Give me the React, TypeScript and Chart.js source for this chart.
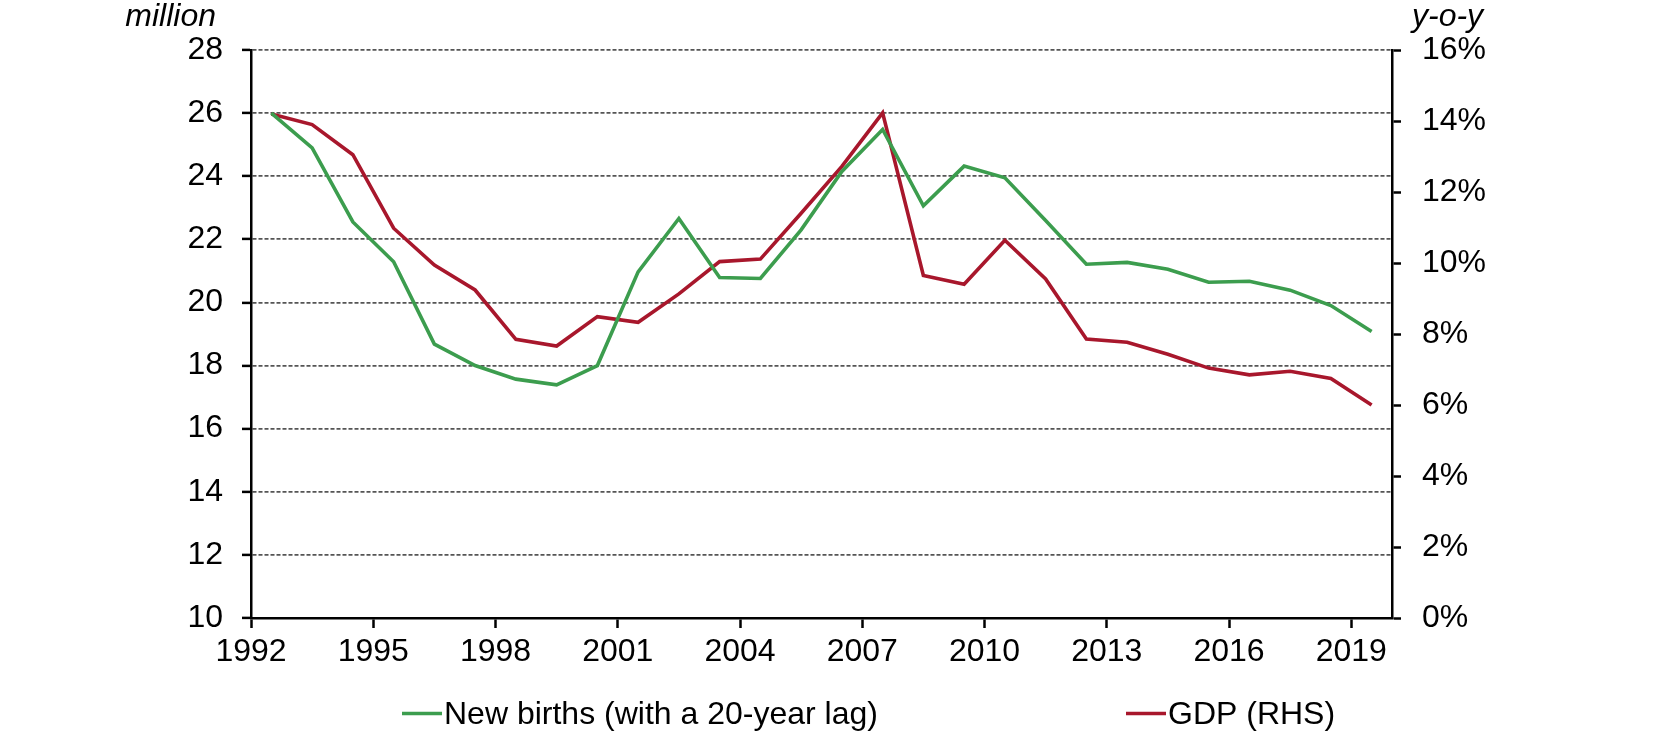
import React, { useEffect, useRef } from "react";
import { Chart, registerables } from "chart.js";

Chart.register(...registerables);

const years = [
  1992, 1993, 1994, 1995, 1996, 1997, 1998, 1999, 2000, 2001, 2002, 2003, 2004, 2005,
  2006, 2007, 2008, 2009, 2010, 2011, 2012, 2013, 2014, 2015, 2016, 2017, 2018, 2019,
];
const births = [
  26.0, 24.9, 22.55, 21.29, 18.68, 18.0, 17.57, 17.39, 18.0, 20.97, 22.66, 20.79, 20.76, 22.3,
  24.15, 25.48, 23.06, 24.32, 23.95, 22.6, 21.21, 21.27, 21.05, 20.64, 20.67, 20.39, 19.9, 19.08,
];
const gdp = [
  14.2, 13.9, 13.05, 10.98, 9.94, 9.24, 7.85, 7.66, 8.49, 8.33, 9.13, 10.04, 10.11, 11.4,
  12.72, 14.23, 9.65, 9.4, 10.64, 9.55, 7.86, 7.77, 7.43, 7.04, 6.85, 6.95, 6.75, 6.0,
];
const xTickYears = [1992, 1995, 1998, 2001, 2004, 2007, 2010, 2013, 2016, 2019];
const seriesLabels = ["New births (with a 20-year lag)", "GDP (RHS)"];
const seriesColors = ["#3c9d4e", "#a8172c"];
const leftUnit = "million";
const rightUnit = "y-o-y";

const W = 1659;
const H = 736;
const FONT = '"Liberation Sans", Arial, sans-serif';
const FS = 32;

const overlayPlugin = {
  id: "overlay",
  afterDraw(chart: any) {
    const { ctx, chartArea } = chart;
    ctx.save();
    ctx.fillStyle = "#000";
    ctx.font = `italic ${FS}px ${FONT}`;
    ctx.textBaseline = "alphabetic";
    ctx.textAlign = "right";
    ctx.fillText(leftUnit, chartArea.left - 35, 26);
    ctx.textAlign = "left";
    ctx.fillText(rightUnit, chartArea.right + 20, 26);

    // legend
    const starts = [402, 1126];
    ctx.font = `${FS}px ${FONT}`;
    chart.data.datasets.forEach((ds: any, i: number) => {
      const x0 = starts[i];
      ctx.strokeStyle = ds.borderColor;
      ctx.lineWidth = 3.4;
      ctx.beginPath();
      ctx.moveTo(x0, 713.5);
      ctx.lineTo(x0 + 40, 713.5);
      ctx.stroke();
      ctx.fillStyle = "#000";
      ctx.textAlign = "left";
      ctx.textBaseline = "alphabetic";
      ctx.fillText(ds.label, x0 + 42, 724);
    });
    ctx.restore();
  },
};

export default function App() {
  const ref = useRef<HTMLCanvasElement | null>(null);

  useEffect(() => {
    document.body.style.margin = "0";
    const canvas = ref.current;
    if (!canvas) return;
    Chart.defaults.font.family = FONT;

    const chart = new Chart(canvas, {
      type: "line",
      data: {
        datasets: [
          {
            label: seriesLabels[0],
            data: years.map((y, i) => ({ x: y + 0.5, y: births[i] })),
            borderColor: seriesColors[0],
            backgroundColor: seriesColors[0],
            borderWidth: 3.6,
            pointRadius: 0,
            tension: 0,
            yAxisID: "y",
          },
          {
            label: seriesLabels[1],
            data: years.map((y, i) => ({ x: y + 0.5, y: gdp[i] })),
            borderColor: seriesColors[1],
            backgroundColor: seriesColors[1],
            borderWidth: 3.6,
            pointRadius: 0,
            tension: 0,
            yAxisID: "y1",
          },
        ],
      },
      options: {
        responsive: false,
        animation: false,
        devicePixelRatio: 1,
        layout: { padding: { top: 50, left: 0, right: 0, bottom: 0 } },
        plugins: {
          legend: { display: false },
          tooltip: { enabled: false },
        },
        scales: {
          x: {
            type: "linear",
            position: "bottom",
            min: 1992,
            max: 2020,
            afterBuildTicks: (s: any) => {
              s.ticks = xTickYears.map((value) => ({ value }));
            },
            afterFit: (s: any) => {
              s.height = H - 618;
            },
            ticks: {
              callback: (v: any) => String(v),
              font: { size: FS },
              color: "#000",
              padding: 5,
              maxRotation: 0,
              autoSkip: false,
              includeBounds: false,
            },
            grid: {
              drawOnChartArea: false,
              drawTicks: true,
              tickLength: 10,
              tickColor: "#000",
              tickWidth: 2.5,
            },
            border: { display: true, color: "#000", width: 2.5 },
          },
          y: {
            type: "linear",
            position: "left",
            min: 10,
            max: 28,
            afterFit: (s: any) => {
              s.width = 251;
            },
            ticks: {
              stepSize: 2,
              font: { size: FS },
              color: "#000",
              padding: 19,
            },
            grid: {
              color: (c: any) => (c.tick && c.tick.value === 10 ? "rgba(0,0,0,0)" : "#555555"),
              lineWidth: 1.8,
              drawTicks: true,
              tickLength: 9,
              tickColor: "#000",
              tickWidth: 2.5,
            },
            border: { display: true, color: "#000", width: 2.5, dash: [4, 2] },
          },
          y1: {
            type: "linear",
            position: "right",
            min: 0,
            max: 16,
            afterFit: (s: any) => {
              s.width = W - 1392;
            },
            ticks: {
              stepSize: 2,
              font: { size: FS },
              color: "#000",
              padding: 21,
              callback: (v: any) => `${v}%`,
            },
            grid: {
              drawOnChartArea: false,
              drawTicks: true,
              tickLength: 9,
              tickColor: "#000",
              tickWidth: 2.5,
            },
            border: { display: true, color: "#000", width: 2.5 },
          },
        },
      },
      plugins: [overlayPlugin],
    });

    return () => chart.destroy();
  }, []);

  return (
    <div style={{ width: W, height: H, background: "#fff" }}>
      <canvas ref={ref} width={W} height={H} style={{ display: "block" }} />
    </div>
  );
}
